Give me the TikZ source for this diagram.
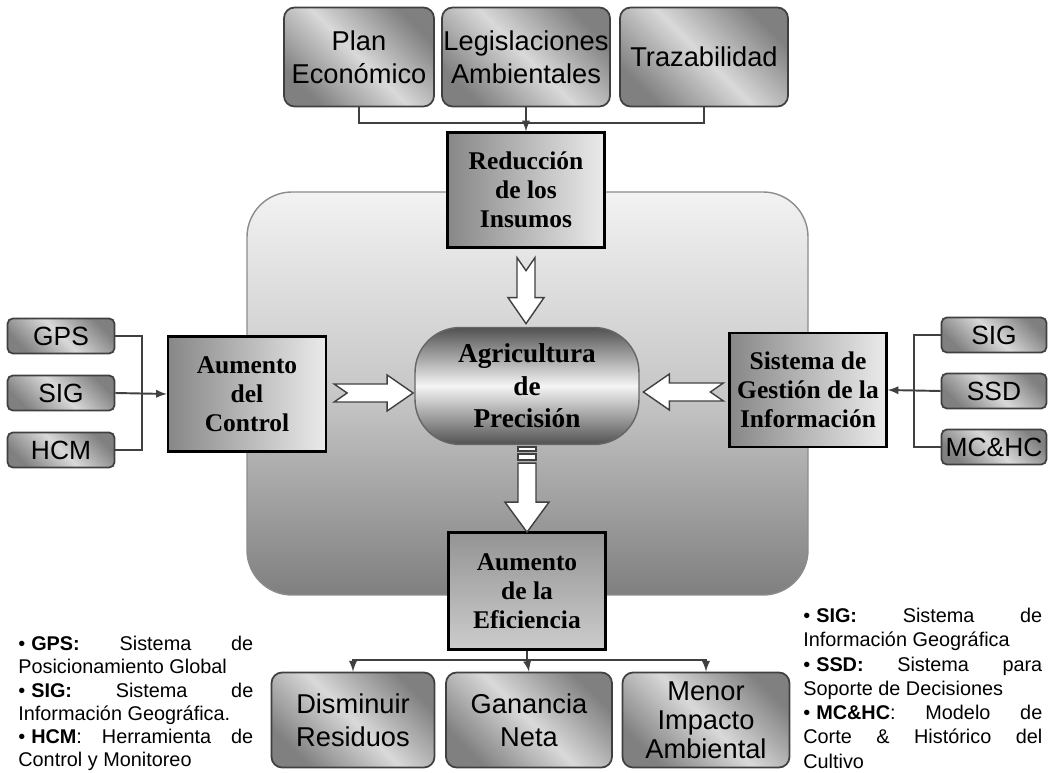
\documentclass[tikz,border=0pt]{standalone}
\usepackage{fontspec}
\setmainfont{Liberation Serif}
\setsansfont{Liberation Sans}
\usepackage{tikz}
\usetikzlibrary{shapes,arrows,positioning,calc}

\tikzset{
    graybox/.style={rectangle, rounded corners=6pt, draw=black!75, line width=1pt,
        left color=black!50, right color=black!50, middle color=black!15, shading angle=-45,
        font=\sffamily\fontsize{15.5}{19}\selectfont, align=center, inner sep=0pt},
    smallbox/.style={graybox, rounded corners=3pt, minimum height=0.7cm,
        font=\sffamily\fontsize{15}{17}\selectfont},
    stepbox/.style={rectangle, draw=black, line width=1.3pt, left color=black!47, right color=black!8,
        font=\bfseries\fontsize{14.5}{16.5}\selectfont, align=center, inner sep=0pt},
    effbox/.style={stepbox, top color=black!42, bottom color=black!20},
    corebox/.style={rectangle, rounded corners=0.9cm, draw=black!60, line width=0.8pt,
        top color=black!68, bottom color=black!68, middle color=black!4,
        font=\bfseries\fontsize{15.5}{18.5}\selectfont, align=center, inner sep=0pt},
    link/.style={draw=black!75, line width=1.1pt},
    note/.style={anchor=north west, inner sep=0pt, font=\sffamily\fontsize{11.3}{13.2}\selectfont}
}

% hollow block arrow with notched tail: start, angle, length
\newcommand{\hollowarrow}[3]{%
    \draw[draw=black!75, fill=white, line width=0.8pt, shift={#1}, rotate=#2]
        (0,-9) -- (#3-26,-9) -- (#3-26,-18) -- (#3,0) -- (#3-26,18) -- (#3-26,9) -- (0,9) -- (13,0) -- cycle;}
% hollow block arrow with striped tail
\newcommand{\stripedarrow}[3]{%
    \begin{scope}[shift={#1}, rotate=#2, draw=black!75, fill=white, line width=0.8pt]
        \filldraw (0,-9) rectangle (4,9);
        \filldraw (7,-9) rectangle (13,9);
        \filldraw (16,-9) -- (#3-30,-9) -- (#3-30,-22) -- (#3,0) -- (#3-30,22) -- (#3-30,9) -- (16,9) -- cycle;
    \end{scope}}
\newcommand{\bul}{•\kern0.3em}

\begin{document}
\begin{tikzpicture}[x=0.02cm, y=-0.02cm]
    \useasboundingbox (0,0) rectangle (1049,773);

    % panel
    \draw[draw=black!45, line width=0.8pt, rounded corners=0.9cm,
        top color=black!5, bottom color=black!50, middle color=black!22] (247,192) rectangle (808,595);

    % top
    \node (plan) [graybox, minimum width=3cm, minimum height=1.98cm] at (359,57) {Plan\\Económico};
    \node (legis) [graybox, minimum width=3.36cm, minimum height=1.98cm] at (526,57) {Legislaciones\\Ambientales};
    \node (traz) [graybox, minimum width=3.36cm, minimum height=1.98cm] at (704,57) {Trazabilidad};
    \node (red) [stepbox, minimum width=3.14cm, minimum height=2.3cm] at (526,190) {Reducción\\de los\\Insumos};

    % center
    \node (agri) [corebox, minimum width=4.48cm, minimum height=2.34cm] at (527,386) {Agricultura\\de\\Precisión};
    \node (ctrl) [stepbox, minimum width=3.16cm, minimum height=2.3cm] at (247,394) {Aumento\\del\\Control};
    \node (sgi) [stepbox, minimum width=3.14cm, minimum height=2.28cm] at (808,390) {Sistema de\\Gestión de la\\Información};
    \node (efi) [effbox, minimum width=3.14cm, minimum height=2.34cm] at (527,591) {Aumento\\de la\\Eficiencia};

    % left
    \node (gps) [smallbox, minimum width=2.14cm] at (61,336) {GPS};
    \node (sigl) [smallbox, minimum width=2.14cm] at (61,393) {SIG};
    \node (hcm) [smallbox, minimum width=2.14cm] at (61,450) {HCM};

    % right
    \node (sigr) [smallbox, minimum width=2.1cm] at (994,335) {SIG};
    \node (ssd) [smallbox, minimum width=2.1cm] at (994,391) {SSD};
    \node (mchc) [smallbox, minimum width=2.1cm] at (994,447) {MC\&HC};

    % bottom
    \node (dism) [graybox, minimum width=3.26cm, minimum height=1.9cm] at (353,720) {Disminuir\\Residuos};
    \node (gan) [graybox, minimum width=3.32cm, minimum height=1.9cm] at (529,720) {Ganancia\\Neta};
    \node (menor) [graybox, minimum width=3.34cm, minimum height=1.9cm,
        font=\sffamily\fontsize{15.5}{16.5}\selectfont] at (706,720) {Menor\\Impacto\\Ambiental};

    % connectors
    \coordinate (topjoin) at (526,123);
    \coordinate (ljoin) at (142,393);
    \coordinate (rjoin) at (914,391);
    \coordinate (bjoin) at (527,660);
    \draw [link] (plan.south) |- (topjoin) -| (traz.south);
    \draw [link,-latex] (legis.south) -- (red.north);
    \draw [link] (gps.east) -| (ljoin) |- (hcm.east);
    \draw [link,-latex] (sigl.east) -- (ctrl.west);
    \draw [link] (sigr.west) -| (rjoin) |- (mchc.west);
    \draw [link,-latex] (ssd.west) -- (sgi.east);
    \draw [link] (efi.south) -- (bjoin);
    \draw [link,-latex] (bjoin) -| (dism.north);
    \draw [link,-latex] (bjoin) -| (menor.north);
    \draw [link,-latex] (bjoin) -- (gan.north);

    % block arrows
    \hollowarrow{($(red.south)+(0,9)$)}{-90}{66}
    \hollowarrow{($(ctrl.east)+(7,-1)$)}{0}{79}
    \hollowarrow{($(sgi.west)+(-5,2)$)}{180}{80}
    \stripedarrow{($(agri.south)+(0,2)$)}{-90}{85}

    % notes
    \node (leftnote) [note] at (18,636) {\parbox{4.7cm}{%
        \bul\textbf{GPS:} Sistema de\linebreak Posicionamiento Global\par
        \bul\textbf{SIG:} Sistema de\linebreak Información Geográfica.\par
        \bul\textbf{HCM}: Herramienta de\linebreak Control y Monitoreo}};
    \node (rightnote) [note] at (803,608) {\parbox{4.78cm}{\fontsize{11.3}{13.8}\selectfont
        \bul\textbf{SIG:} Sistema de\linebreak Información Geográfica\par
        \bul\textbf{SSD:} Sistema para\linebreak Soporte de Decisiones\par
        \bul\textbf{MC\&HC}: Modelo de\linebreak Corte \& Histórico del\linebreak Cultivo}};
\end{tikzpicture}
\end{document}
